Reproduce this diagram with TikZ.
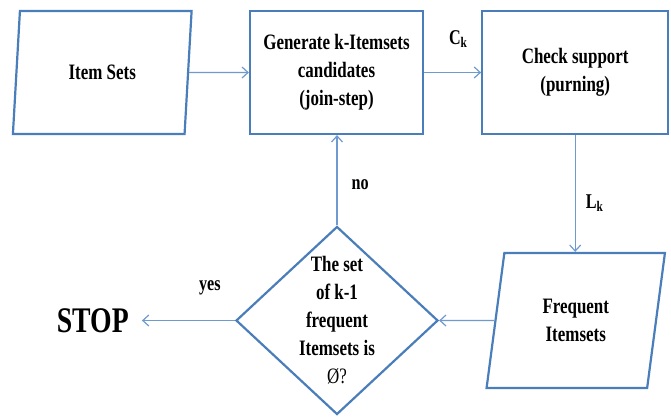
\documentclass[tikz,border=0pt]{standalone}
\usepackage{fontspec}
\setmainfont{Liberation Serif}[FakeStretch=0.77]
\usetikzlibrary{arrows.meta, positioning, shapes.geometric}

\definecolor{boxblue}{HTML}{4A7EBB}
\definecolor{lineblue}{HTML}{6F9AD0}

\tikzset{
  base/.style={draw=boxblue, line width=2.2pt, align=center, inner sep=0pt,
    font=\bfseries\fontsize{22}{28}\selectfont},
  process/.style={base, rectangle, minimum height=123pt},
  dataio/.style={base, trapezium, trapezium left angle=79, trapezium right angle=101,
    trapezium stretches=true, minimum height=123pt, minimum width=180pt},
  decision/.style={base, diamond, minimum width=202pt, minimum height=188pt},
  flow/.style={draw=lineblue, line width=1.2pt, -{Straight Barb[length=6pt,width=11pt]}},
  lbl/.style={inner sep=0pt, font=\bfseries\fontsize{21}{24}\selectfont}
}

\begin{document}
\begin{tikzpicture}[x=1pt, y=1pt]
  \useasboundingbox (0,0) rectangle (671,-416);

  \node[dataio] (items) at (102.25,-72.5) {Item Sets};
  \node[process, minimum width=173pt] (gen) at (336.5,-72.5) {Generate k-Itemsets\\candidates\\(join-step)};
  \node[process, minimum width=186pt, right=57pt of gen] (check) {Check support\\(purning)};
  \node[dataio, minimum height=135pt, minimum width=179pt] (freq) at (575.75,-320.5) {Frequent\\Itemsets};
  \node[decision, label={[base, draw=none]center:The set\\of k-1\\frequent\\Itemsets is\\{\mdseries Ø?}}] (dia) at (337,-320.5) {};
  \node[inner sep=0pt, inner xsep=13pt, font=\bfseries\fontsize{36}{40}\selectfont, left=93pt of dia] (stop) {STOP};

  \draw[flow] (items) -- (gen);
  \draw[flow] (gen) -- node[lbl, pos=0.6, above=24pt] {C\textsubscript{k}} (check);
  \draw[flow] (check.south) -- node[lbl, pos=0.58, right=10pt] {L\textsubscript{k}} (check.south |- freq.north);
  \draw[flow] (freq) -- (dia);
  \draw[flow] (dia.north) -- node[lbl, pos=0.45, right=14pt] {no} (dia.north |- gen.south);
  \draw[flow] (dia.west) -- node[lbl, pos=0.27, above=25pt] {yes} (stop.east);
\end{tikzpicture}
\end{document}
